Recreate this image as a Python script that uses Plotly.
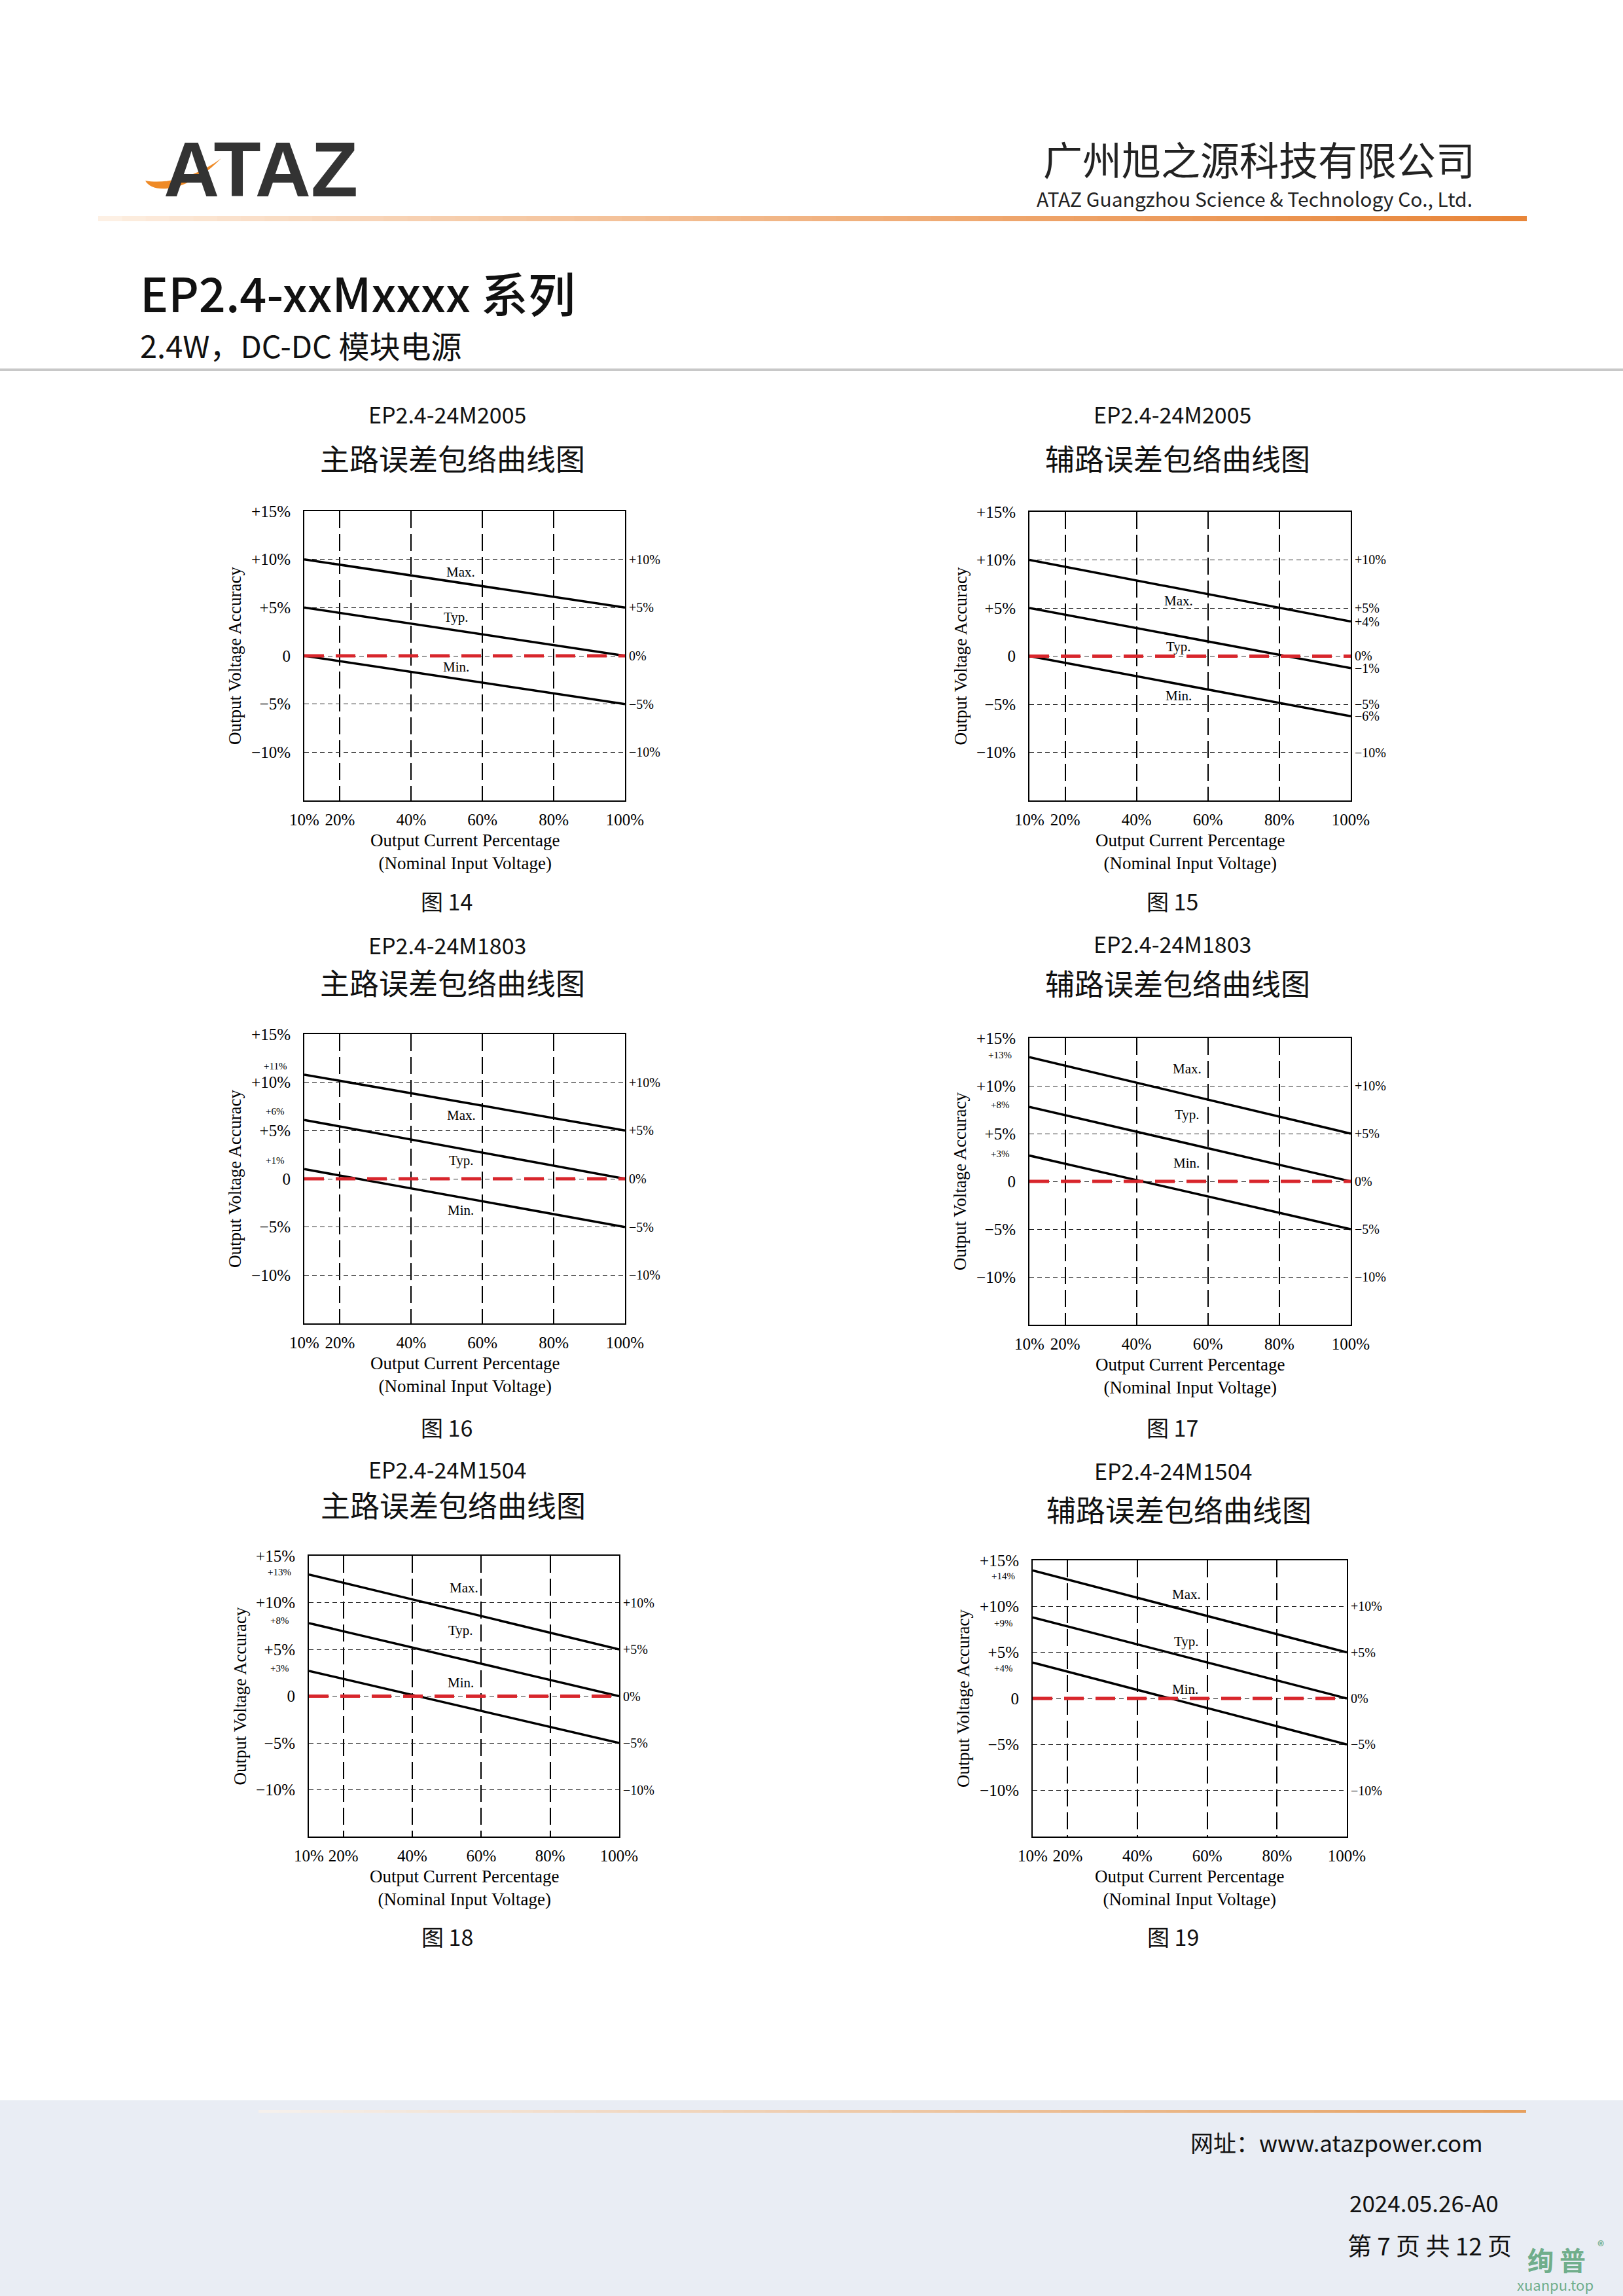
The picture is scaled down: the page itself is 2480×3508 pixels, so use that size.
import plotly.graph_objects as go

W, H = 2480, 3508

# ---------------- data ----------------
load_pct = [10, 100]                      # output current percentage (line end points)
x_tick_vals = [10, 20, 40, 60, 80, 100]
x_tick_text = ["10%", "20%", "40%", "60%", "80%", "100%"]
y_tick_vals = [15, 10, 5, 0, -5, -10]
y_tick_text = ["+15%", "+10%", "+5%", "0", "−5%", "−10%"]
right_tick_vals = [10, 5, 0, -5, -10]
right_tick_text = ["+10%", "+5%", "0%", "−5%", "−10%"]
nominal = 0

models = ["EP2.4-24M2005", "EP2.4-24M2005", "EP2.4-24M1803",
          "EP2.4-24M1803", "EP2.4-24M1504", "EP2.4-24M1504"]
chart_titles = ["主路误差包络曲线图", "辅路误差包络曲线图", "主路误差包络曲线图",
                "辅路误差包络曲线图", "主路误差包络曲线图", "辅路误差包络曲线图"]
figure_labels = ["图 14", "图 15", "图 16", "图 17", "图 18", "图 19"]
curve_names = ["Max.", "Typ.", "Min."]

# envelope values (% accuracy) at 10% and 100% load
max_14 = [10, 5];    typ_14 = [5, 0];     min_14 = [0, -5]
max_15 = [10, 3.6];  typ_15 = [5, -1.25]; min_15 = [0, -6.25]
max_16 = [10.8, 5];  typ_16 = [6.1, 0];   min_16 = [1.0, -5]
max_17 = [13, 5];    typ_17 = [7.8, 0];   min_17 = [2.7, -5]
max_18 = [13, 5];    typ_18 = [7.8, 0];   min_18 = [2.7, -5]
max_19 = [13.9, 5];  typ_19 = [8.8, 0];   min_19 = [3.9, -5]
envelopes = [(max_14, typ_14, min_14), (max_15, typ_15, min_15),
             (max_16, typ_16, min_16), (max_17, typ_17, min_17),
             (max_18, typ_18, min_18), (max_19, typ_19, min_19)]

start_labels = [None, None, ["+11%", "+6%", "+1%"], ["+13%", "+8%", "+3%"],
                ["+13%", "+8%", "+3%"], ["+14%", "+9%", "+4%"]]
end_labels = [None, ["+4%", "−1%", "−6%"], None, None, None, None]

# ---------------- layout helpers ----------------
def px(x):
    return x / W

def py(y):
    return 1 - y / H

# plot areas in page pixels: left, right, top, bottom
areas = [(465, 955, 781, 1223), (1573, 2064, 782, 1223),
         (465, 955, 1580, 2022), (1573, 2064, 1586, 2024),
         (472, 946, 2377, 2806), (1578, 2058, 2384, 2806)]
# title positions: model (x,y), chinese title (x,y), figure label (x,y)
title_pos = [((683, 633), (691, 699), (682, 1377)),
             ((1791, 633), (1799, 699), (1791, 1377)),
             ((683, 1444), (691, 1500), (682, 2180)),
             ((1791, 1442), (1799, 1502), (1791, 2180)),
             ((683, 2244), (692, 2298), (683, 2958)),
             ((1792, 2246), (1801, 2305), (1792, 2958))]
# curve-name label positions (x domain fraction, y value)
name_pos = [[(0.487, 8.7), (0.473, 4.0), (0.473, -1.15)],
            [(0.464, 5.75), (0.464, 1.0), (0.464, -4.1)],
            [(0.49, 6.6), (0.49, 1.9), (0.487, -3.25)],
            [(0.49, 11.8), (0.49, 7.0), (0.488, 1.9)],
            [(0.50, 11.6), (0.49, 7.0), (0.49, 1.4)],
            [(0.49, 11.3), (0.49, 6.2), (0.485, 1.0)]]
# vertical pixel nudge of the small start-value labels
start_label_shift = [0, 0, 13, 3, 4, -9]

SERIF = "Liberation Serif, DejaVu Serif, serif"
CJK = "Noto Sans CJK SC, Noto Sans, sans-serif"

fig = go.Figure()
shapes = []
annotations = []
layout_axes = {}

for i in range(6):
    n = i + 1
    xa = "x" if n == 1 else f"x{n}"
    ya = "y" if n == 1 else f"y{n}"
    l, r, t, b = areas[i]

    for series in envelopes[i]:
        fig.add_trace(go.Scatter(x=load_pct, y=series, mode="lines",
                                 line=dict(color="black", width=3.5),
                                 xaxis=xa, yaxis=ya, showlegend=False,
                                 hoverinfo="skip"))

    layout_axes["xaxis" if n == 1 else f"xaxis{n}"] = dict(
        domain=[px(l), px(r)], anchor=ya, range=[10, 100], automargin=False,
        tickvals=x_tick_vals, ticktext=x_tick_text, ticks="",
        tickfont=dict(family=SERIF, size=25, color="black"),
        ticklabelstandoff=6,
        showgrid=True, gridcolor="black", gridwidth=1.6, griddash="26px,9px",
        showline=True, mirror=True, linecolor="black", linewidth=2,
        zeroline=False, fixedrange=True)
    layout_axes["yaxis" if n == 1 else f"yaxis{n}"] = dict(
        domain=[py(b), py(t)], anchor=xa, range=[-15, 15], automargin=False,
        tickvals=y_tick_vals, ticktext=y_tick_text, ticks="",
        tickfont=dict(family=SERIF, size=25, color="black"),
        ticklabelstandoff=14,
        showgrid=True, gridcolor="#222222", gridwidth=1.4, griddash="7px,5px",
        showline=True, mirror=True, linecolor="black", linewidth=2,
        zeroline=False, fixedrange=True)

    # nominal (0 %) red dashed reference
    shapes.append(dict(type="line", xref=f"{xa} domain", x0=0, x1=1,
                       yref=ya, y0=nominal, y1=nominal,
                       line=dict(color="#D8262C", width=5, dash="30px,18px")))

    # right-hand scale labels
    for v, txt in zip(right_tick_vals, right_tick_text):
        annotations.append(dict(xref=f"{xa} domain", x=1, yref=ya, y=v, text=txt,
                                xanchor="left", yanchor="middle", xshift=4,
                                showarrow=False,
                                font=dict(family=SERIF, size=20, color="black")))
    if end_labels[i]:
        for series, txt in zip(envelopes[i], end_labels[i]):
            annotations.append(dict(xref=f"{xa} domain", x=1, yref=ya, y=series[-1],
                                    text=txt, xanchor="left", yanchor="middle",
                                    xshift=4, showarrow=False,
                                    font=dict(family=SERIF, size=20, color="black")))
    if start_labels[i]:
        for series, txt in zip(envelopes[i], start_labels[i]):
            annotations.append(dict(xref=f"{xa} domain", x=0, yref=ya, y=series[0],
                                    text=txt, xanchor="center", yanchor="middle",
                                    xshift=-45, yshift=start_label_shift[i],
                                    showarrow=False,
                                    font=dict(family=SERIF, size=15, color="black")))
    # curve names
    for (fx, fy), name in zip(name_pos[i], curve_names):
        annotations.append(dict(xref=f"{xa} domain", x=fx, yref=ya, y=fy, text=name,
                                xanchor="center", yanchor="middle", showarrow=False,
                                font=dict(family=SERIF, size=21, color="black")))
    # axis titles
    annotations.append(dict(xref=f"{xa} domain", x=0, yref=f"{ya} domain", y=0.5,
                            text="Output Voltage Accuracy", textangle=-90,
                            xanchor="center", yanchor="middle", xshift=-106,
                            showarrow=False,
                            font=dict(family=SERIF, size=27, color="black")))
    annotations.append(dict(xref=f"{xa} domain", x=0.5, yref=f"{ya} domain", y=0,
                            text="Output Current Percentage<br>(Nominal Input Voltage)",
                            xanchor="center", yanchor="top", yshift=-44,
                            showarrow=False,
                            font=dict(family=SERIF, size=27, color="black")))
    # titles
    (mx, my), (cx, cy), (gx, gy) = title_pos[i]
    annotations.append(dict(xref="paper", yref="paper", x=px(mx), y=py(my),
                            text=models[i], showarrow=False, xanchor="center",
                            yanchor="middle",
                            font=dict(family=CJK, size=34, color="#111111")))
    annotations.append(dict(xref="paper", yref="paper", x=px(cx), y=py(cy),
                            text=chart_titles[i], showarrow=False, xanchor="center",
                            yanchor="middle",
                            font=dict(family=CJK, size=45, color="#111111")))
    annotations.append(dict(xref="paper", yref="paper", x=px(gx), y=py(gy),
                            text=figure_labels[i], showarrow=False, xanchor="center",
                            yanchor="middle",
                            font=dict(family=CJK, size=34, color="#111111")))

# ---------------- page decoration ----------------
def rect(x0, y0, x1, y1, color, layer="below"):
    return dict(type="rect", xref="paper", yref="paper",
                x0=px(x0), x1=px(x1), y0=py(y1), y1=py(y0),
                fillcolor=color, line=dict(width=0), layer=layer)

def mix(c0, c1, t):
    return "rgb(%d,%d,%d)" % tuple(round(a + (b - a) * t) for a, b in zip(c0, c1))

# header gradient rule
n_seg = 60
for k in range(n_seg):
    t = k / (n_seg - 1)
    x0 = 150 + (2332 - 150) * k / n_seg
    x1 = 150 + (2332 - 150) * (k + 1) / n_seg + 1
    shapes.append(rect(x0, 330, x1, 338, mix((253, 240, 228), (232, 134, 58), t ** 0.8)))
# grey separator
shapes.append(rect(0, 563, W, 567, "#C8C8C8"))
# footer band
shapes.append(rect(0, 3209, W, H, "#E9EDF4"))
for k in range(n_seg):
    t = k / (n_seg - 1)
    x0 = 395 + (2331 - 395) * k / n_seg
    x1 = 395 + (2331 - 395) * (k + 1) / n_seg + 1
    shapes.append(rect(x0, 3224, x1, 3228, mix((245, 240, 236), (230, 160, 95), t), layer="above"))

# logo swoosh
def P(x, y):
    return f"{px(x):.5f},{py(y):.5f}"
swoosh = (f"M {P(222, 276)} C {P(232, 296)} {P(285, 296)} {P(338, 242)} "
          f"C {P(300, 270)} {P(255, 282)} {P(222, 276)} Z")
shapes.append(dict(type="path", xref="paper", yref="paper", path=swoosh,
                   fillcolor="#EF8A26", line=dict(width=0), layer="above"))

GREEN = "rgba(95,165,125,0.9)"
header_texts = [
    dict(x=px(248), y=py(259), text="ATAZ", xanchor="left",
         font=dict(family="Liberation Sans, Arial, sans-serif", size=118,
                   color="#333333", weight="bold")),
    dict(x=px(2256), y=py(241), text="广州旭之源科技有限公司", xanchor="right",
         font=dict(family=CJK, size=60, color="#222222")),
    dict(x=px(2252), y=py(303), text="ATAZ Guangzhou Science &amp; Technology Co., Ltd.",
         xanchor="right", font=dict(family=CJK, size=30, color="#222222")),
    dict(x=px(212), y=py(446), text="EP2.4-xxMxxxx 系列", xanchor="left",
         font=dict(family=CJK, size=72, color="#111111", weight=500)),
    dict(x=px(212), y=py(527), text="2.4W，DC-DC 模块电源", xanchor="left",
         font=dict(family=CJK, size=47, color="#111111")),
    dict(x=px(2268), y=py(3272), text="网址：www.atazpower.com", xanchor="right",
         font=dict(family=CJK, size=35, color="#111111")),
    dict(x=px(2292), y=py(3364), text="2024.05.26-A0", xanchor="right",
         font=dict(family=CJK, size=35, color="#111111")),
    dict(x=px(2312), y=py(3430), text="第\u00a07\u00a0页\u00a0共\u00a012\u00a0页",
         xanchor="right", font=dict(family=CJK, size=37, color="#111111")),
    dict(x=px(2378), y=py(3452), text="绚\u00a0普", xanchor="center",
         font=dict(family=CJK, size=40, color=GREEN, weight="bold")),
    dict(x=px(2446), y=py(3430), text="®", xanchor="center",
         font=dict(family=CJK, size=20, color=GREEN, weight="bold")),
    dict(x=px(2376), y=py(3490), text="xuanpu.top", xanchor="center",
         font=dict(family=CJK, size=22, color=GREEN)),
]
for a in header_texts:
    a.update(xref="paper", yref="paper", yanchor="middle", showarrow=False)
    annotations.append(a)

fig.update_layout(
    width=W, height=H,
    margin=dict(l=0, r=0, t=0, b=0, pad=0, autoexpand=False),
    paper_bgcolor="white", plot_bgcolor="white",
    showlegend=False, shapes=shapes, annotations=annotations,
    **layout_axes)

fig.write_html("out.html", config={"displayModeBar": False},
               post_script="document.body.style.margin='0';")
